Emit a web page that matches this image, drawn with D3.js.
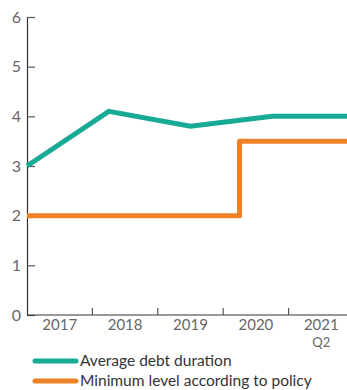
<!DOCTYPE html>
<html>
<head>
<meta charset="utf-8">
<script src="https://cdn.jsdelivr.net/npm/d3@7"></script>
<style>
  html, body { margin: 0; padding: 0; background: #fff; }
  #chart { width: 347px; height: 390px; overflow: hidden; }
  text { font-family: Lato, 'Open Sans', sans-serif; }
</style>
</head>
<body>
<div id="chart"></div>
<script>
var categories = ['2017', '2018', '2019', '2020', '2021'];
var categorySubLabels = ['', '', '', '', 'Q2'];
var yTicks = [0, 1, 2, 3, 4, 5, 6];

// Average debt duration, one point per period position
var durationX = [0, 1, 2, 3, 4];
var durationValues = [3.0, 4.1, 3.8, 4.0, 4.0];

// Minimum level according to policy (step line)
var policyX = [0, 2.6, 4];
var policyValues = [2.0, 3.5, 3.5];

var seriesNames = ['Average debt duration', 'Minimum level according to policy'];
var seriesColors = ['#17aa94', '#ee8125'];

function renderChart() {
    var margin = { top: 17, right: 0, bottom: 75, left: 27 };
    var width = 327;
    var height = 390 - margin.top - margin.bottom;

    var root = d3.select('#chart')
        .append('svg')
        .attr('width', 347)
        .attr('height', 390);

    var svg = root.append('g')
        .attr('transform', 'translate(' + margin.left + ',' + margin.top + ')');

    var y = d3.scaleLinear().domain([0, 6]).range([height, 0]);
    var xBand = d3.scaleBand().domain(categories).range([0, width]);
    var x = d3.scaleLinear().domain([0, 4]).range([0, width]);

    // Y axis
    var yAxis = svg.append('g')
        .call(d3.axisLeft(y).tickValues(yTicks).tickFormat(d3.format('d')).tickSize(0).tickPadding(6));
    yAxis.select('.domain').attr('stroke', '#333').attr('stroke-width', 1.2);
    yAxis.selectAll('.tick text')
        .attr('fill', '#666')
        .style('font-size', '16px');
    yAxis.selectAll('.tick').append('line')
        .attr('x1', 0).attr('x2', 8)
        .attr('stroke', '#555').attr('stroke-width', 1.2);

    // X axis
    var xAxis = svg.append('g')
        .attr('transform', 'translate(0,' + height + ')');
    xAxis.append('line')
        .attr('x1', 0).attr('x2', width)
        .attr('stroke', '#333').attr('stroke-width', 1.2);
    xAxis.selectAll('.xtick')
        .data(categories.slice(1))
        .enter()
        .append('line')
        .attr('x1', function(d) { return xBand(d); })
        .attr('x2', function(d) { return xBand(d); })
        .attr('y1', 0).attr('y2', -7)
        .attr('stroke', '#555').attr('stroke-width', 1.2);
    xAxis.selectAll('.xlabel')
        .data(categories)
        .enter()
        .append('text')
        .attr('text-anchor', 'middle')
        .attr('fill', '#666')
        .style('font-size', '15px')
        .attr('x', function(d) { return xBand(d) + xBand.bandwidth() / 2; })
        .attr('y', 15)
        .text(function(d) { return d; });
    xAxis.selectAll('.xsublabel')
        .data(categories)
        .enter()
        .append('text')
        .attr('text-anchor', 'middle')
        .attr('fill', '#666')
        .style('font-size', '13px')
        .attr('x', function(d) { return xBand(d) + xBand.bandwidth() / 2; })
        .attr('y', 32)
        .text(function(d, i) { return categorySubLabels[i]; });

    // Lines
    var durationLine = d3.line()
        .x(function(d) { return x(d[0]); })
        .y(function(d) { return y(d[1]); });

    var policyLine = d3.line()
        .x(function(d) { return x(d[0]); })
        .y(function(d) { return y(d[1]); })
        .curve(d3.curveStepAfter);

    svg.append('path')
        .datum(d3.zip(policyX, policyValues))
        .attr('fill', 'none')
        .attr('stroke', seriesColors[1])
        .attr('stroke-width', 5)
        .attr('stroke-linejoin', 'round')
        .attr('d', policyLine);

    svg.append('path')
        .datum(d3.zip(durationX, durationValues))
        .attr('fill', 'none')
        .attr('stroke', seriesColors[0])
        .attr('stroke-width', 5)
        .attr('stroke-linejoin', 'miter')
        .attr('d', durationLine);

    // Legend
    var legend = root.append('g')
        .attr('transform', 'translate(33,361)');
    var items = legend.selectAll('.legend-item')
        .data(seriesNames)
        .enter()
        .append('g')
        .attr('transform', function(d, i) { return 'translate(0,' + (i * 20) + ')'; });
    items.append('line')
        .attr('x1', 2).attr('x2', 43)
        .attr('stroke', function(d, i) { return seriesColors[i]; })
        .attr('stroke-width', 5)
        .attr('stroke-linecap', 'round');
    items.append('text')
        .attr('x', 47)
        .attr('dy', '0.35em')
        .attr('fill', '#333')
        .style('font-size', '15.5px')
        .text(function(d) { return d; });
}

renderChart();
</script>
</body>
</html>
